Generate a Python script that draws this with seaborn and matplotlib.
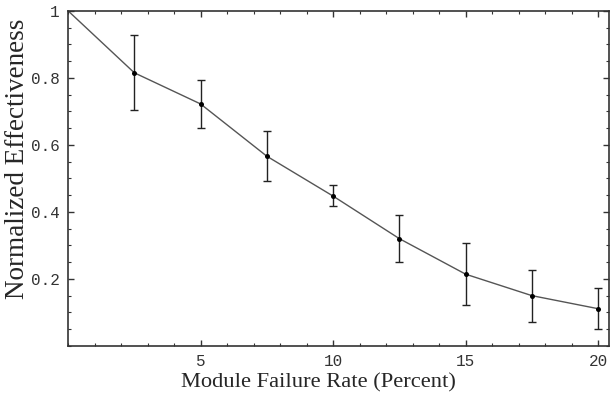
import matplotlib
matplotlib.use("Agg")
import matplotlib.pyplot as plt
from matplotlib.ticker import MultipleLocator, FixedLocator
import seaborn as sns
import pandas as pd
import numpy as np

# Data
failure_rate = [0, 2.5, 5, 7.5, 10, 12.5, 15, 17.5, 20]
effectiveness = [1.0, 0.815, 0.722, 0.566, 0.447, 0.320, 0.214, 0.150, 0.111]
err_low = [np.nan, 0.705, 0.651, 0.491, 0.418, 0.249, 0.121, 0.071, 0.051]
err_high = [np.nan, 0.928, 0.794, 0.640, 0.481, 0.391, 0.307, 0.227, 0.172]
x_ticks = [5, 10, 15, 20]
x_tick_labels = ["5", "10", "15", "20"]
y_ticks = [0.2, 0.4, 0.6, 0.8, 1.0]
y_tick_labels = ["0.2", "0.4", "0.6", "0.8", "1"]

df = pd.DataFrame({"x": failure_rate, "y": effectiveness,
                   "lo": err_low, "hi": err_high})
pts = df.iloc[1:]

sns.set_style("ticks")
fig = plt.figure(figsize=(6.1, 3.99), dpi=100)
ax = fig.add_axes([0.1115, 0.133, 0.8875, 0.840])

sns.lineplot(data=df, x="x", y="y", ax=ax, color="#555555", lw=1.0,
             estimator=None, sort=False)
ax.errorbar(pts["x"], pts["y"],
            yerr=[pts["y"] - pts["lo"], pts["hi"] - pts["y"]],
            fmt="none", ecolor="#222222", elinewidth=1.0, capsize=2.8, capthick=1.0)
sns.scatterplot(data=pts, x="x", y="y", ax=ax, color="black", s=13,
                edgecolor="black", linewidth=0, zorder=5)

ax.set_xlim(0, 20.42)
ax.set_ylim(0, 1.0)

ax.xaxis.set_major_locator(FixedLocator(x_ticks))
ax.set_xticklabels(x_tick_labels)
ax.xaxis.set_minor_locator(MultipleLocator(1))
ax.yaxis.set_major_locator(FixedLocator(y_ticks))
ax.set_yticklabels(y_tick_labels)
ax.yaxis.set_minor_locator(MultipleLocator(0.05))

for lab in ax.get_xticklabels() + ax.get_yticklabels():
    lab.set_family("Liberation Mono")
    lab.set_fontsize(11.5)
    lab.set_color("#333333")

ax.tick_params(which="both", direction="in", top=True, right=True,
               color="#333333")
ax.tick_params(which="major", length=4, width=1.0, pad=6)
ax.tick_params(which="minor", length=2.2, width=0.8)

for s in ax.spines.values():
    s.set_color("#333333")
    s.set_linewidth(1.2)

ax.set_xlabel("Module Failure Rate (Percent)", family="Liberation Serif",
              fontsize=16.2)
ax.xaxis.set_label_coords(0.4626, -0.082)
ax.set_ylabel("Normalized Effectiveness", family="Liberation Serif",
              fontsize=19.5, va="center")
ax.yaxis.set_label_coords(-0.094, 0.558)

fig.savefig("out.png", dpi=100)
